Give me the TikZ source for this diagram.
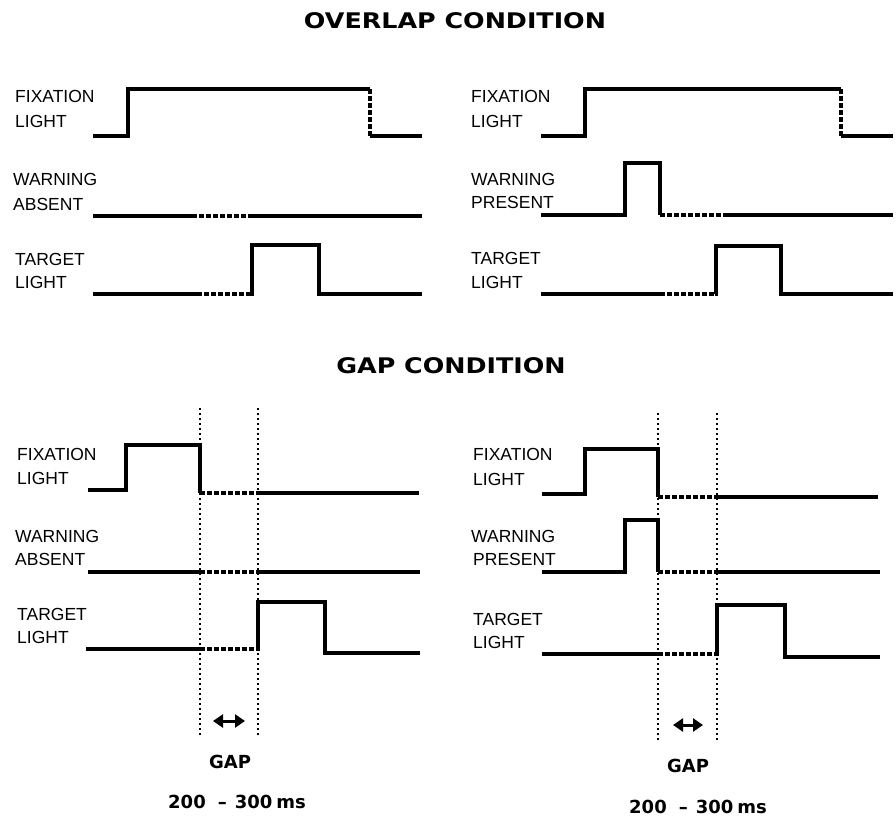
\documentclass[tikz,border=0pt]{standalone}
\usepackage{fontspec}
\usetikzlibrary{arrows.meta}
\newfontfamily\lblfam{Liberation Sans}
\newfontfamily\ttlfam{DejaVu Sans}
\newcommand{\lblfont}{\lblfam\fontsize{17.5}{20}\selectfont}
\newcommand{\ttlfont}{\ttlfam\bfseries\fontsize{21.5}{24}\selectfont}
\newcommand{\gapfont}{\ttlfam\bfseries\fontsize{18}{20}\selectfont}
\begin{document}
\begin{tikzpicture}[x=1pt,y=-1pt,
  lbl/.style={font=\lblfont, anchor=base west, inner sep=0pt},
  ttl/.style={font=\ttlfont, anchor=base, inner sep=0pt},
  gaplbl/.style={font=\gapfont, anchor=base, inner sep=0pt},
  signal/.style={line width=3.2pt, line join=miter, line cap=butt},
  dsig/.style={signal, dash pattern=on 5pt off 2pt},
  guide/.style={line width=2pt, dash pattern=on 2pt off 3pt},
  gaparrow/.style={line width=3pt, {Triangle[length=10pt,width=13pt]}-{Triangle[length=10pt,width=13pt]}}]
\fill[white] (0,0) rectangle (896,817);
\useasboundingbox (0,0) rectangle (896,817);

% Titles
\node[ttl] (t1) at (455,28) {\scalebox{1.18}[1]{OVERLAP CONDITION}};
\node[ttl] (t2) at (451,373) {\scalebox{1.18}[1]{GAP CONDITION}};

% ---------- Top-left: overlap, warning absent ----------
\node[lbl] (tlf1) at (15,102) {FIXATION};
\node[lbl] (tlf2) at (15,127) {LIGHT};
\node[lbl] (tlw1) at (13,185) {WARNING};
\node[lbl] (tlw2) at (13,210) {ABSENT};
\node[lbl] (tlt1) at (15,265) {TARGET};
\node[lbl] (tlt2) at (15,288) {LIGHT};
\draw[signal] (93,136) -- (128,136) -- (128,89) -- (370,89);
\draw[dsig] (370,89) -- (370,136);
\draw[signal] (370,136) -- (422,136);
\draw[signal] (93,216) -- (192,216);
\draw[dsig] (192,216) -- (248,216);
\draw[signal] (248,216) -- (422,216);
\draw[signal] (93,294) -- (197,294);
\draw[dsig] (197,294) -- (252,294);
\draw[signal] (251,294) -- (252,294) -- (252,245) -- (319,245) -- (319,294) -- (422,294);

% ---------- Top-right: overlap, warning present ----------
\node[lbl] (trf1) at (471,102) {FIXATION};
\node[lbl] (trf2) at (471,127) {LIGHT};
\node[lbl] (trw1) at (471,185) {WARNING};
\node[lbl] (trw2) at (471,208) {PRESENT};
\node[lbl] (trt1) at (471,264) {TARGET};
\node[lbl] (trt2) at (471,288) {LIGHT};
\draw[signal] (541,136) -- (585,136) -- (585,89) -- (841,89);
\draw[dsig] (841,89) -- (841,136);
\draw[signal] (841,136) -- (893,136);
\draw[signal] (541,215) -- (625,215) -- (625,163) -- (660,163) -- (660,215);
\draw[dsig] (660,215) -- (726,215);
\draw[signal] (726,215) -- (893,215);
\draw[signal] (541,294) -- (660,294);
\draw[dsig] (660,294) -- (716,294);
\draw[signal] (715,294) -- (716,294) -- (716,246) -- (781,246) -- (781,294) -- (893,294);

% ---------- Bottom-left: gap, warning absent ----------
\node[lbl] (blf1) at (17,460) {FIXATION};
\node[lbl] (blf2) at (17,484) {LIGHT};
\node[lbl] (blw1) at (15,542) {WARNING};
\node[lbl] (blw2) at (15,565) {ABSENT};
\node[lbl] (blt1) at (17,620) {TARGET};
\node[lbl] (blt2) at (17,643) {LIGHT};
\draw[guide] (200,408) -- (200,735);
\draw[guide] (258,408) -- (258,735);
\draw[signal] (88,490) -- (126,490) -- (126,445) -- (200,445) -- (200,493);
\draw[dsig] (200,493) -- (258,493);
\draw[signal] (258,493) -- (419,493);
\draw[signal] (88,572) -- (200,572);
\draw[dsig] (200,572) -- (258,572);
\draw[signal] (258,572) -- (420,572);
\draw[signal] (86,649) -- (200,649);
\draw[dsig] (200,649) -- (258,649);
\draw[signal] (257,649) -- (258,649) -- (258,602) -- (325,602) -- (325,653) -- (420,653);
\coordinate (la1) at (213,721);
\coordinate (la2) at (245,721);
\draw[gaparrow] (la1) -- (la2);
\node[gaplbl] (blgap) at (230,768) {GAP};
\node[gaplbl] (blms) at (237,808) {200\hspace{12pt}–\hspace{8pt}300\hspace{4pt}ms};

% ---------- Bottom-right: gap, warning present ----------
\node[lbl] (brf1) at (473,460) {FIXATION};
\node[lbl] (brf2) at (473,485) {LIGHT};
\node[lbl] (brw1) at (471,542) {WARNING};
\node[lbl] (brw2) at (473,565) {PRESENT};
\node[lbl] (brt1) at (473,625) {TARGET};
\node[lbl] (brt2) at (473,648) {LIGHT};
\draw[guide] (658,413) -- (658,740);
\draw[guide] (717,413) -- (717,740);
\draw[signal] (542,494) -- (585,494) -- (585,449) -- (658,449) -- (658,497);
\draw[dsig] (658,497) -- (717,497);
\draw[signal] (717,497) -- (878,497);
\draw[signal] (542,572) -- (625,572) -- (625,520) -- (658,520) -- (658,572);
\draw[dsig] (658,572) -- (717,572);
\draw[signal] (717,572) -- (880,572);
\draw[signal] (542,654) -- (658,654);
\draw[dsig] (658,654) -- (717,654);
\draw[signal] (716,654) -- (717,654) -- (717,605) -- (785,605) -- (785,657) -- (880,657);
\coordinate (ra1) at (673,725);
\coordinate (ra2) at (703,725);
\draw[gaparrow] (ra1) -- (ra2);
\node[gaplbl] (brgap) at (688,772) {GAP};
\node[gaplbl] (brms) at (698,813) {200\hspace{12pt}–\hspace{8pt}300\hspace{4pt}ms};
\end{tikzpicture}
\end{document}
